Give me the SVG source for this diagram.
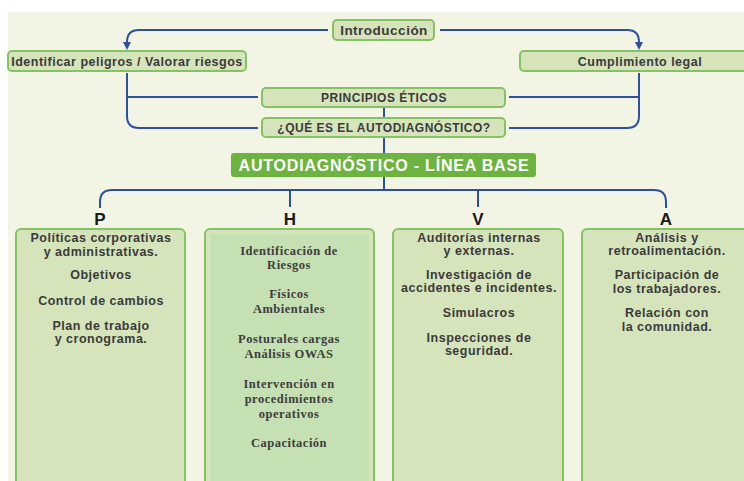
<svg xmlns="http://www.w3.org/2000/svg" width="744" height="481" viewBox="0 0 744 481">
<defs>
<marker id="arr" markerWidth="8" markerHeight="8" refX="4" refY="4" orient="auto" markerUnits="userSpaceOnUse">
<path d="M0,0 L8,4 L0,8 z" fill="#2f4f9f"/>
</marker>
<style>
.bx{fill:#d5e4ba;stroke:#86c263;stroke-width:2}
.t{font-family:"Liberation Sans",Arial,sans-serif;font-weight:bold;fill:#3a3a3a;text-anchor:middle;letter-spacing:0.5px}
.s{font-family:"Liberation Serif","Times New Roman",serif;font-weight:bold;fill:#3d3d3d;text-anchor:middle;font-size:12.5px;letter-spacing:0.5px}
.c{fill:none;stroke:#2f4f9f;stroke-width:2}
.l{font-family:"Liberation Sans",Arial,sans-serif;font-weight:bold;fill:#1a1a1a;text-anchor:middle;font-size:17px}
</style>
</defs>
<rect x="0" y="0" width="744" height="481" fill="#ffffff"/>
<rect x="8" y="12" width="736" height="469" fill="#f2f5e4"/>
<g id="connectors">
<path class="c" d="M328,30 H139 Q127,30 127,42 V46" marker-end="url(#arr)"/>
<path class="c" d="M440,30 H627 Q639,30 639,42 V46" marker-end="url(#arr)"/>
<path class="c" d="M127,73 V116 Q127,128 139,128 H258"/>
<path class="c" d="M127,97 H258"/>
<path class="c" d="M639,73 V116 Q639,128 627,128 H509"/>
<path class="c" d="M639,97 H509"/>
<path class="c" d="M384,107 V118 M384,137 V153 M384,177 V190"/>
<path class="c" d="M100,208 V202 Q100,190 112,190 H654 Q666,190 666,202 V208"/>
<path class="c" d="M290,190 V207 M478,190 V207"/>
</g>
<g id="introduccion"><rect class="bx" x="333" y="20" width="101" height="20" rx="4"/><text class="t" x="384" y="35" font-size="13.5">Introducción</text></g>
<g id="identificar"><rect class="bx" x="8" y="51" width="238" height="20" rx="4"/><text class="t" x="127" y="65.5" font-size="12.5">Identificar peligros / Valorar riesgos</text></g>
<g id="cumplimiento"><rect class="bx" x="520" y="51" width="240" height="20" rx="4"/><text class="t" x="640" y="65.5" font-size="12.5">Cumplimiento legal</text></g>
<g id="principios"><rect class="bx" x="262" y="88" width="243" height="19" rx="4"/><text class="t" x="384" y="102" font-size="12" style="font-weight:600">PRINCIPIOS ÉTICOS</text></g>
<g id="que-es"><rect class="bx" x="262" y="118" width="243" height="19" rx="4"/><text class="t" x="384" y="132" font-size="12" style="font-weight:600">¿QUÉ ES EL AUTODIAGNÓSTICO?</text></g>
<g id="linea-base"><rect x="231" y="153" width="305" height="24" rx="3" fill="#6db33f"/><text class="t" x="384" y="171" font-size="16" style="fill:#ffffff;letter-spacing:0.8px">AUTODIAGNÓSTICO - LÍNEA BASE</text></g>
<g id="P">
<text class="l" x="100" y="225">P</text>
<rect class="bx" x="16" y="229" width="169" height="270" rx="5"/>
<text class="t" font-size="12.5"><tspan x="101" y="242">Políticas corporativas</tspan><tspan x="101" y="256">y administrativas.</tspan><tspan x="101" y="279">Objetivos</tspan><tspan x="101" y="305">Control de cambios</tspan><tspan x="101" y="330">Plan de trabajo</tspan><tspan x="101" y="343">y cronograma.</tspan></text>
</g>
<g id="H">
<text class="l" x="290" y="225">H</text>
<rect class="bx" x="205" y="229" width="169" height="270" rx="5"/>
<rect x="210" y="234" width="159" height="260" fill="#c5e0b3"/>
<text class="s"><tspan x="289" y="255">Identificación de</tspan><tspan x="289" y="269">Riesgos</tspan><tspan x="289" y="298">Físicos</tspan><tspan x="289" y="313">Ambientales</tspan><tspan x="289" y="343">Posturales cargas</tspan><tspan x="289" y="358">Análisis OWAS</tspan><tspan x="289" y="388">Intervención en</tspan><tspan x="289" y="403">procedimientos</tspan><tspan x="289" y="418">operativos</tspan><tspan x="289" y="447">Capacitación</tspan></text>
</g>
<g id="V">
<text class="l" x="478" y="225">V</text>
<rect class="bx" x="393" y="229" width="170" height="270" rx="5"/>
<text class="t" font-size="12.5"><tspan x="479" y="242">Auditorías internas</tspan><tspan x="479" y="255">y externas.</tspan><tspan x="479" y="279">Investigación de</tspan><tspan x="479" y="292">accidentes e incidentes.</tspan><tspan x="479" y="317">Simulacros</tspan><tspan x="479" y="342">Inspecciones de</tspan><tspan x="479" y="355">seguridad.</tspan></text>
</g>
<g id="A">
<text class="l" x="666" y="225">A</text>
<rect class="bx" x="582" y="229" width="180" height="270" rx="5"/>
<text class="t" font-size="12.5"><tspan x="667" y="242">Análisis y</tspan><tspan x="667" y="255">retroalimentación.</tspan><tspan x="667" y="279">Participación de</tspan><tspan x="667" y="293">los trabajadores.</tspan><tspan x="667" y="317">Relación con</tspan><tspan x="667" y="331">la comunidad.</tspan></text>
</g>
</svg>
